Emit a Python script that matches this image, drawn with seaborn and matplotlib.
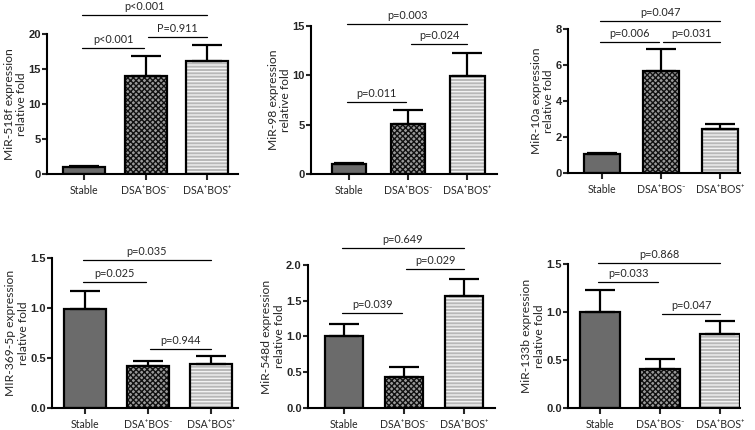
import seaborn as sns
import matplotlib
matplotlib.use('Agg')
import matplotlib.pyplot as plt
from matplotlib.patches import Rectangle

sns.set_style('ticks')
plt.rcParams['font.family'] = ['Lato', 'DejaVu Sans']
plt.rcParams['hatch.linewidth'] = 1.0

groups = ['Stable', 'DSA\u207aBOS\u207b', 'DSA\u207aBOS\u207a']

# mean and upper error (SEM)
mir518f_mean = [1.0, 14.0, 16.2]
mir518f_err = [0.2, 2.9, 2.3]
mir98_mean = [1.0, 5.1, 9.9]
mir98_err = [0.1, 1.4, 2.4]
mir10a_mean = [1.05, 5.65, 2.45]
mir10a_err = [0.08, 1.25, 0.27]
mir369_mean = [0.99, 0.42, 0.44]
mir369_err = [0.18, 0.05, 0.08]
mir548d_mean = [1.0, 0.44, 1.57]
mir548d_err = [0.17, 0.14, 0.23]
mir133b_mean = [1.0, 0.41, 0.77]
mir133b_err = [0.23, 0.10, 0.14]

# comparisons: (group a, group b, line height, label)
p_518f = [(0, 1, 18.0, 'p<0.001'), (1, 2, 19.6, 'P=0.911'), (0, 2, 22.7, 'p<0.001')]
p_98 = [(0, 1, 7.3, 'p=0.011'), (1, 2, 13.2, 'p=0.024'), (0, 2, 15.2, 'p=0.003')]
p_10a = [(0, 1, 7.3, 'p=0.006'), (1, 2, 7.3, 'p=0.031'), (0, 2, 8.45, 'p=0.047')]
p_369 = [(0, 1, 1.26, 'p=0.025'), (1, 2, 0.59, 'p=0.944'), (0, 2, 1.48, 'p=0.035')]
p_548d = [(0, 1, 1.33, 'p=0.039'), (1, 2, 1.94, 'p=0.029'), (0, 2, 2.24, 'p=0.649')]
p_133b = [(0, 1, 1.31, 'p=0.033'), (1, 2, 0.98, 'p=0.047'), (0, 2, 1.51, 'p=0.868')]

panels = [
    ('MiR-518f expression\nrelative fold', mir518f_mean, mir518f_err, p_518f, 20, 5),
    ('MiR-98 expression\nrelative fold', mir98_mean, mir98_err, p_98, 15, 5),
    ('MiR-10a expression\nrelative fold', mir10a_mean, mir10a_err, p_10a, 8, 2),
    ('MIR-369-5p expression\nrelative fold', mir369_mean, mir369_err, p_369, 1.5, 0.5),
    ('MiR-548d expression\nrelative fold', mir548d_mean, mir548d_err, p_548d, 2.0, 0.5),
    ('MiR-133b expression\nrelative fold', mir133b_mean, mir133b_err, p_133b, 1.5, 0.5),
]

# axes rectangles (figure fraction), x limits and bar width
rects = [[0.0623, 0.5953, 0.2530, 0.3256],
         [0.4119, 0.5953, 0.2464, 0.3442],
         [0.7523, 0.5977, 0.2278, 0.3349],
         [0.0689, 0.0512, 0.2464, 0.3488],
         [0.4079, 0.0512, 0.2477, 0.3326],
         [0.7523, 0.0512, 0.2278, 0.3349]]
xlims = [(-0.60, 2.5), (-0.64, 2.5), (-0.58, 2.34), (-0.52, 2.43), (-0.60, 2.52), (-0.53, 2.33)]
widths = [0.68, 0.58, 0.6, 0.67, 0.64, 0.67]

fills = ['#6b6b6b', '#9a9a9a', '#b8b8b8']
hatches = ['', 'xxxxxx', '-----']
hatch_cols = ['#6b6b6b', '#111111', '#f2f2f2']

fig = plt.figure(figsize=(7.55, 4.3), dpi=100)

for k, (ylab, means, errs, comps, ytop, ystep) in enumerate(panels):
    ax = fig.add_axes(rects[k])
    sns.barplot(x=groups, y=means, hue=groups, palette=fills, legend=False,
                width=widths[k], errorbar=None, ax=ax, zorder=2)
    for i, p in enumerate(ax.patches):
        p.set_hatch(hatches[i])
        p.set_edgecolor(hatch_cols[i])
        p.set_linewidth(0)
        ax.add_patch(Rectangle(p.get_xy(), p.get_width(), p.get_height(), fill=False,
                               edgecolor='black', linewidth=1.6, zorder=3))
    ax.errorbar(range(3), means, yerr=[[0, 0, 0], errs], fmt='none', ecolor='black',
                elinewidth=1.6, capsize=11, capthick=1.6, zorder=4)

    for a, b, h, lab in comps:
        x1 = a + (0.04 if a == 1 else -0.03)
        x2 = b - (0.03 if (a == 0 and b == 1) else 0.0)
        ax.plot([x1, x2], [h, h], color='black', lw=0.9, clip_on=False, zorder=5)
        ax.annotate(lab, ((x1 + x2) / 2, h), xytext=(0, 2), textcoords='offset points',
                    ha='center', va='bottom', fontsize=7.8, annotation_clip=False)

    ax.set_xlim(*xlims[k])
    ax.set_ylim(0, ytop)
    ticks = [ystep * j for j in range(int(round(ytop / ystep)) + 1)]
    ax.set_yticks(ticks)
    if ystep < 1:
        ax.set_yticklabels(['%.1f' % t for t in ticks])
    else:
        ax.set_yticklabels(['%d' % t for t in ticks])
    ax.set_ylabel(ylab, fontsize=8.7, labelpad=1, linespacing=1.15)
    ax.set_xlabel('')
    ax.tick_params(axis='y', labelsize=8, width=1.5, length=3.5, pad=1)
    ax.tick_params(axis='x', labelsize=7.6, width=1.5, length=4, pad=4)
    for t in ax.get_yticklabels():
        t.set_fontweight('bold')
        t.set_family(['Liberation Sans Narrow', 'Liberation Sans', 'DejaVu Sans'])
    for sp in ['left', 'bottom']:
        ax.spines[sp].set_linewidth(1.5)
        ax.spines[sp].set_color('black')
    sns.despine(ax=ax)

fig.savefig('out.png', dpi=100)
